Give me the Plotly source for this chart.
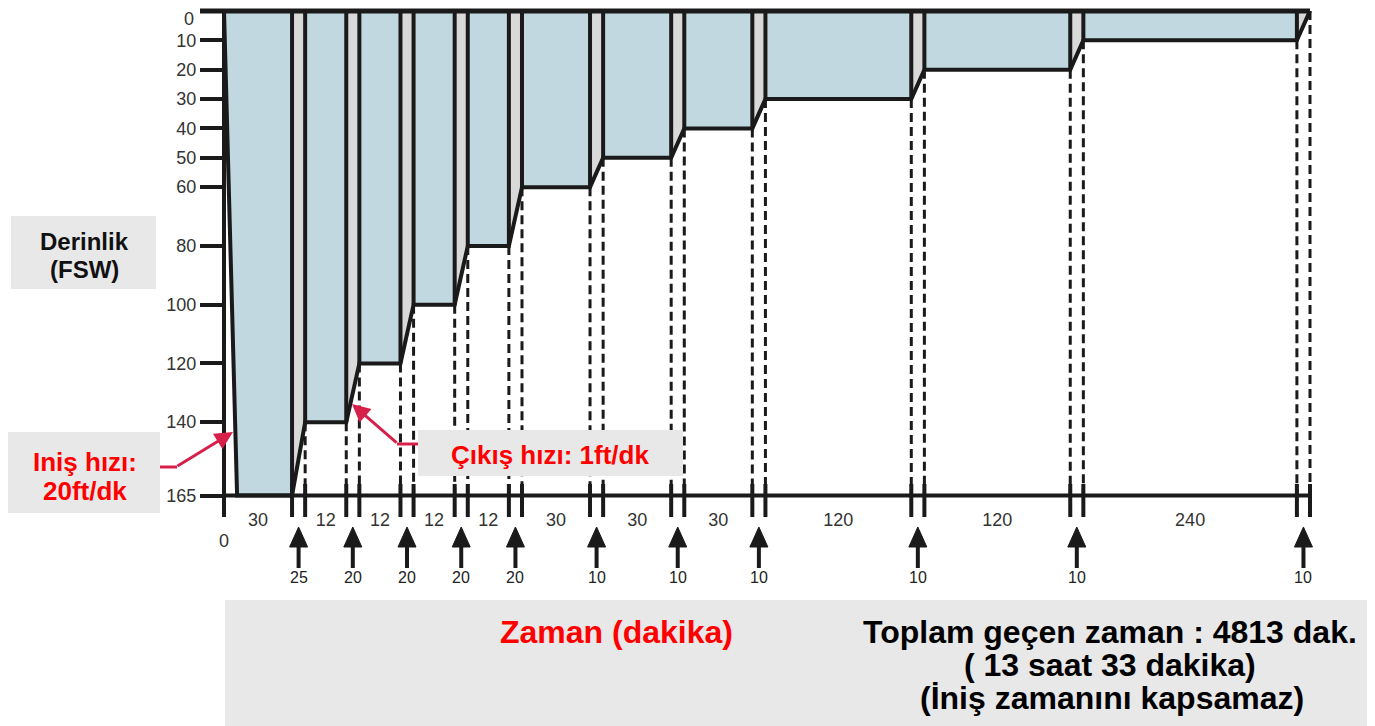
import plotly.graph_objects as go

# ---------------- data ----------------
stop_depths = [165, 140, 120, 100, 80, 60, 50, 40, 30, 20, 10]      # fsw
stop_minutes = [30, 12, 12, 12, 12, 30, 30, 30, 120, 120, 240]      # minutes at each stop
ascent_marks = [25, 20, 20, 20, 20, 10, 10, 10, 10, 10, 10]        # values under the arrows
depth_ticks = [0, 10, 20, 30, 40, 50, 60, 80, 100, 120, 140, 165]

# ---------------- layout scale (screen pixels) ----------------
SHIFT = 8                              # page body margin
W, H = 1375 - SHIFT, 726 - SHIFT       # figure size
X0_PX, X_END_PX = 224, 1310            # screen span of the time axis
Y0_PX, Y_PER_FT = 10.9, 2.9375         # screen mapping of depth
EXP = 0.55                             # schematic (power) time scale
TRANS = 1.25                           # width of a descent / ascent transition
TICK_PX = 24                           # length of the depth ticks

widths = [m ** EXP for m in stop_minutes]
total = sum(widths) + TRANS * len(stop_minutes)
ppu = (X_END_PX - X0_PX) / total
xr = [(SHIFT - X0_PX) / ppu, (SHIFT + W - X0_PX) / ppu]
yr = [(SHIFT + H - Y0_PX) / Y_PER_FT, (SHIFT - Y0_PX) / Y_PER_FT]


def dy(sy):
    return (sy - Y0_PX) / Y_PER_FT


def px(sx):
    return (sx - SHIFT) / W


def py(sy):
    return 1 - (sy - SHIFT) / H


starts, leaves = [], []
x = 0.0
for w in widths:
    starts.append(x)
    leaves.append(x + w)
    x = x + w + TRANS
end_x = x
next_depths = stop_depths[1:] + [0]
BOT = stop_depths[0]

BLUE = "#c1d8e0"
GREY = "#d9d9d9"
BLACK = "#1a1a1a"

fig = go.Figure()

# blue stop areas
bx, by = [], []
for i, d in enumerate(stop_depths):
    if i == 0:
        pts = [(0, 0), (TRANS, d), (leaves[i], d), (leaves[i], 0)]
    else:
        pts = [(starts[i], 0), (starts[i], d), (leaves[i], d), (leaves[i], 0)]
    for a, b in pts:
        bx.append(a); by.append(b)
    bx.append(None); by.append(None)
fig.add_trace(go.Scatter(x=bx, y=by, fill="toself", fillcolor=BLUE, mode="none",
                         hoverinfo="skip"))

# grey ascent areas
gx, gy = [], []
for i, d in enumerate(stop_depths):
    xs, xe, dn = leaves[i], leaves[i] + TRANS, next_depths[i]
    for a, b in [(xs, 0), (xs, d), (xe, dn), (xe, 0)]:
        gx.append(a); gy.append(b)
    gx.append(None); gy.append(None)
fig.add_trace(go.Scatter(x=gx, y=gy, fill="toself", fillcolor=GREY, mode="none",
                         hoverinfo="skip"))

# dashed verticals below the profile
dx_, dy_ = [], []
for i, d in enumerate(stop_depths):
    xs, xe, dn = leaves[i], leaves[i] + TRANS, next_depths[i]
    if d < BOT:
        dx_ += [xs, xs, None]; dy_ += [d, BOT, None]
    dx_ += [xe, xe, None]; dy_ += [dn, BOT, None]
fig.add_trace(go.Scatter(x=dx_, y=dy_, mode="lines",
                         line=dict(color=BLACK, width=3, dash="9px,5px"), hoverinfo="skip"))

# solid verticals above the profile
sx, sy = [], []
for i, d in enumerate(stop_depths):
    xs, xe, dn = leaves[i], leaves[i] + TRANS, next_depths[i]
    sx += [xs, xs, None]; sy += [0, d, None]
    if dn > 0:
        sx += [xe, xe, None]; sy += [0, dn, None]
fig.add_trace(go.Scatter(x=sx, y=sy, mode="lines", line=dict(color=BLACK, width=4),
                         hoverinfo="skip"))

# depth profile
prx, pry = [0, TRANS], [0, BOT]
for i, d in enumerate(stop_depths):
    if i > 0:
        prx.append(starts[i]); pry.append(d)
    prx.append(leaves[i]); pry.append(d)
prx.append(end_x); pry.append(0)
fig.add_trace(go.Scatter(x=prx, y=pry, mode="lines", line=dict(color=BLACK, width=4),
                         hoverinfo="skip"))

# frame: surface line (with its tick), bottom axis line, time-zero line and boundary ticks
tick_top, tick_bot = dy(484), dy(517)
fig.add_trace(go.Scatter(x=[-TICK_PX / ppu, end_x], y=[0, 0], mode="lines",
                         line=dict(color=BLACK, width=5), hoverinfo="skip"))
fx = [0, end_x, None, 0, 0, None]
fy = [BOT, BOT, None, 0, tick_bot, None]
for i in range(len(stop_depths)):
    for xx in (leaves[i], leaves[i] + TRANS):
        fx += [xx, xx, None]; fy += [tick_top, tick_bot, None]
fig.add_trace(go.Scatter(x=fx, y=fy, mode="lines", line=dict(color=BLACK, width=4),
                         hoverinfo="skip"))

# upward arrows under each ascent
centers = [l + TRANS / 2 for l in leaves]
hw = 9 / ppu
hx, hy, shx, shy = [], [], [], []
for c in centers:
    hx += [c, c - hw, c + hw, c, None]; hy += [dy(527), dy(547), dy(547), dy(527), None]
    shx += [c, c, None]; shy += [dy(545), dy(568), None]
fig.add_trace(go.Scatter(x=shx, y=shy, mode="lines", line=dict(color=BLACK, width=4),
                         hoverinfo="skip"))
fig.add_trace(go.Scatter(x=hx, y=hy, fill="toself", fillcolor=BLACK, mode="lines",
                         line=dict(color=BLACK, width=1), hoverinfo="skip"))

FONT = "Liberation Sans, Arial"
ann = []
for c, v in zip(centers, ascent_marks):
    ann.append(dict(x=c, y=dy(577), xref="x", yref="y", text=str(v), showarrow=False,
                    xanchor="center", yanchor="middle",
                    font=dict(size=16, color="#222", family=FONT)))
ann.append(dict(x=0, y=dy(541), xref="x", yref="y", text="0", showarrow=False,
                xanchor="center", yanchor="middle",
                font=dict(size=18, color="#333", family=FONT)))
# label of the surface tick (kept inside the page)
ann.append(dict(x=-(TICK_PX + 4) / ppu, y=dy(19), xref="x", yref="y", text=str(depth_ticks[0]),
                showarrow=False, xanchor="right", yanchor="middle",
                font=dict(size=18, color="#333", family=FONT)))

RED_LINE = "#d6204a"
# label boxes
shapes = [
    dict(type="rect", xref="paper", yref="paper", x0=px(11), x1=px(156), y0=py(289), y1=py(216),
         fillcolor="#e8e8e8", line=dict(width=0), layer="above"),
    dict(type="rect", xref="paper", yref="paper", x0=px(8), x1=px(160), y0=py(513), y1=py(432),
         fillcolor="#e8e8e8", line=dict(width=0), layer="above"),
    dict(type="rect", xref="paper", yref="paper", x0=px(418), x1=px(683), y0=py(476), y1=py(430),
         fillcolor="#e8e8e8", line=dict(width=0), layer="above"),
    dict(type="rect", xref="paper", yref="paper", x0=px(225), x1=px(1375), y0=py(726), y1=py(600),
         fillcolor="#e8e8e8", line=dict(width=0), layer="above"),
    # horizontal legs of the red pointers
    dict(type="line", xref="paper", yref="paper", x0=px(160), x1=px(177), y0=py(467), y1=py(467),
         line=dict(color=RED_LINE, width=3), layer="above"),
    dict(type="line", xref="paper", yref="paper", x0=px(418), x1=px(397), y0=py(444), y1=py(444),
         line=dict(color=RED_LINE, width=3), layer="above"),
]


def label(xp, yp, text, size, color):
    return dict(x=px(xp), y=py(yp), xref="paper", yref="paper", text="<b>" + text + "</b>",
                showarrow=False, xanchor="center", yanchor="middle",
                font=dict(size=size, color=color, family=FONT))


ann += [
    label(84, 241, "Derinlik", 24, "#111"),
    label(84, 269, "(FSW)", 24, "#111"),
    label(85, 462, "Iniş hızı:", 26, "#ff0000"),
    label(85, 491, "20ft/dk", 26, "#ff0000"),
    label(550, 455, "Çıkış hızı: 1ft/dk", 26, "#ff0000"),
    label(616, 632, "Zaman (dakika)", 32, "#ff0000"),
    label(1110, 632, "Toplam geçen zaman : 4813 dak.", 32, "#000"),
    label(1110, 665, "( 13 saat 33 dakika)", 32, "#000"),
    label(1112, 698, "(İniş zamanını kapsamaz)", 32, "#000"),
    dict(x=px(233), y=py(432), xref="paper", yref="paper", ax=-57, ay=35, text="",
         showarrow=True, arrowhead=2, arrowsize=1.2, arrowwidth=3, arrowcolor=RED_LINE),
    dict(x=px(352), y=py(404), xref="paper", yref="paper", ax=46, ay=40, text="",
         showarrow=True, arrowhead=2, arrowsize=1.2, arrowwidth=3, arrowcolor=RED_LINE),
]

fig.update_layout(
    width=W, height=H, margin=dict(l=0, r=0, t=0, b=0),
    paper_bgcolor="white", plot_bgcolor="white", showlegend=False,
    xaxis=dict(range=xr, domain=[0, 1], showgrid=False, zeroline=False, showline=False,
               tickvals=[(s + l) / 2 for s, l in zip(starts, leaves)],
               ticktext=[str(m) for m in stop_minutes], ticks="",
               anchor="free", position=py(493), ticklabelstandoff=14,
               tickfont=dict(size=18, color="#333", family=FONT)),
    yaxis=dict(range=yr, domain=[0, 1], showgrid=False, zeroline=False, showline=False,
               tickvals=depth_ticks[1:], ticktext=[str(v) for v in depth_ticks[1:]],
               ticks="outside", ticklen=TICK_PX, tickwidth=4, tickcolor=BLACK,
               anchor="free", position=px(X0_PX),
               tickfont=dict(size=18, color="#333", family=FONT)),
    shapes=shapes, annotations=ann,
)

fig.write_html("out.html")
